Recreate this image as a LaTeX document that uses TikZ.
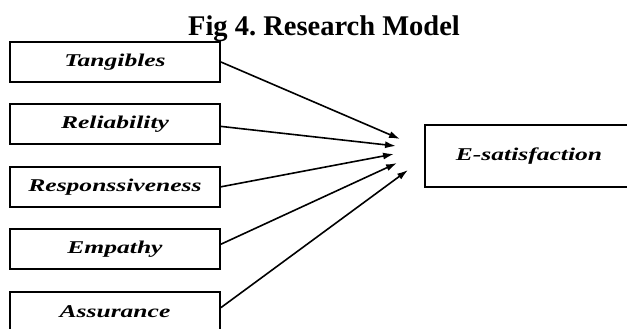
\documentclass[tikz,border=0pt]{standalone}
\usepackage{fontspec}
\setmainfont{Liberation Serif}
\newfontfamily\factorfont[FakeStretch=1.42]{Liberation Serif}
\usetikzlibrary{positioning,arrows.meta}
\frenchspacing

\begin{document}
\begin{tikzpicture}[x=1pt, y=1pt, node distance=20.5pt,
    factor/.style={draw, line width=1.9pt, minimum width=210pt, minimum height=40pt, inner sep=0pt,
        font=\factorfont\fontsize{18}{20}\selectfont\bfseries\itshape},
    link/.style={-{Latex[length=11pt,width=7pt]}, line width=1.6pt}]
    \useasboundingbox (0,0) rectangle (627,-329);
    % Research Model
    \node[anchor=base, font=\bfseries\fontsize{28.5}{30}\selectfont] (title) at (324,-36) {Fig 4. Research Model};
    \node[factor] (tang) at (115,-62) {Tangibles};
    \node[factor, below=of tang] (reli) {Reliability};
    \node[factor, below=of reli] (resp) {Responssiveness};
    \node[factor, below=of resp] (empa) {Empathy};
    \node[factor, below=of empa] (assu) {Assurance};
    \node[factor, minimum width=208pt, minimum height=62pt] (esat) at (529,-156) {E-satisfaction};
    \coordinate (tipT) at ([shift={(-24,17)}]esat.west);
    \coordinate (tipR) at ([shift={(-28,10)}]esat.west);
    \coordinate (tipS) at ([shift={(-30,2)}]esat.west);
    \coordinate (tipE) at ([shift={(-27,-7)}]esat.west);
    \coordinate (tipA) at ([shift={(-16,-14)}]esat.west);
    \draw[link] (tang.east) -- (tipT);
    \draw[link] ([yshift=-2pt]reli.east) -- (tipR);
    \draw[link] (resp.east) -- (tipS);
    \draw[link] ([yshift=5pt]empa.east) -- (tipE);
    \draw[link] ([yshift=4pt]assu.east) -- (tipA);
\end{tikzpicture}
\end{document}
